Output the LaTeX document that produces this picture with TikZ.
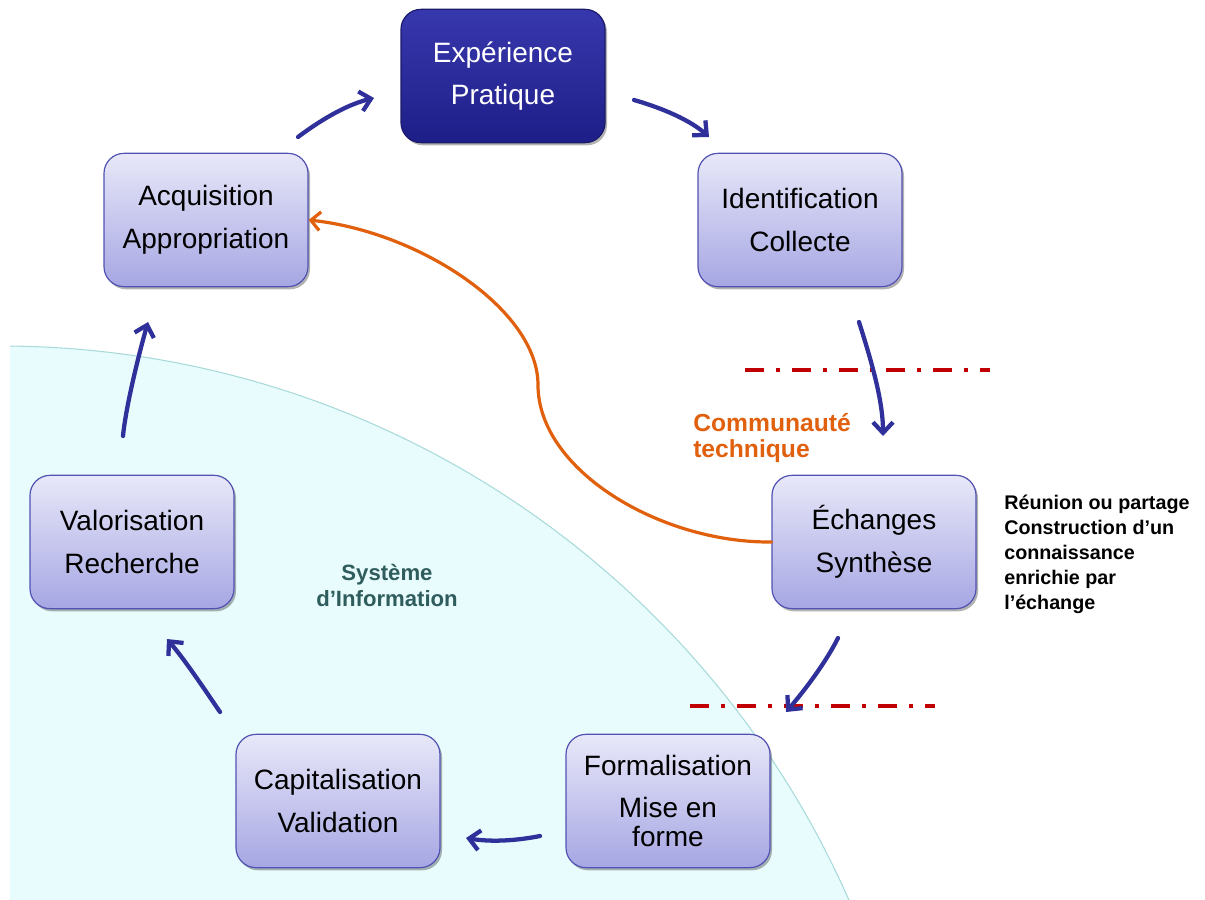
\documentclass[tikz,border=0pt]{standalone}
\usepackage{fontspec}
\setmainfont{Liberation Sans}
\usetikzlibrary{arrows.meta,shadows}
\definecolor{arrowblue}{HTML}{30309A}
\definecolor{boxtop}{HTML}{E8E8F9}
\definecolor{boxbot}{HTML}{A6A6E3}
\definecolor{boxborder}{HTML}{5252B2}
\definecolor{darktop}{HTML}{3838AE}
\definecolor{darkbot}{HTML}{1E1E88}
\definecolor{darkborder}{HTML}{1A1A6A}
\definecolor{cyanfill}{HTML}{E9FCFD}
\definecolor{cyanline}{HTML}{A8DADA}
\definecolor{orangec}{HTML}{E0600E}
\definecolor{redc}{HTML}{C00000}
\definecolor{tealc}{HTML}{2F5C5C}
\tikzset{
  lbox/.style={draw=boxborder, line width=0.9pt, rounded corners=15pt,
    top color=boxtop, bottom color=boxbot,
    minimum width=153pt, minimum height=100pt, align=center,
    font=\fontsize{21}{32}\selectfont,
    drop shadow={shadow xshift=1.5pt, shadow yshift=-2pt, opacity=0.3, fill=black}},
  dbox/.style={lbox, draw=darkborder, top color=darktop, bottom color=darkbot, text=white},
  cyc/.style={draw=arrowblue, line width=3.2pt, line cap=round,
    -{Straight Barb[length=8pt,width=15pt]}},
  orangearrow/.style={draw=orangec, line width=2.4pt, line cap=round,
    -{Straight Barb[length=7pt,width=14pt]}},
  dashdot/.style={draw=redc, line width=3.2pt,
    dash pattern=on 14pt off 9pt on 3pt off 9.25pt},
}
\begin{document}
\begin{tikzpicture}[x=0.75pt,y=-0.75pt]
\useasboundingbox (0,0) rectangle (1205,899);
% information system area
\begin{scope}
  \clip (10,0) rectangle (1205,899);
  \fill[cyanfill, draw=cyanline, line width=0.8pt] (0,1273) circle[radius=695.25pt];
\end{scope}

% nodes
\node[dbox] (exp) at (503,76) {Expérience\\Pratique};
\node[lbox] (acq) at (206,220) {Acquisition\\Appropriation};
\node[lbox] (ide) at (800,220) {Identification\\Collecte};
\node[lbox] (ech) at (874,542) {Échanges\\Synthèse};
\node[lbox, font=\fontsize{21}{22}\selectfont] (for) at (668,801) {Formalisation\\[9pt]Mise en\\forme};
\node[lbox] (cap) at (338,801) {Capitalisation\\Validation};
\node[lbox] (val) at (132,542) {Valorisation\\Recherche};

% texts
\node[anchor=north west, align=left, text=orangec, inner sep=0pt,
  font=\bfseries\fontsize{18.5}{19.5}\selectfont] (comm) at (693,413) {Communauté\\technique};
\node[anchor=north west, align=left, inner sep=0pt,
  font=\bfseries\fontsize{14.8}{18.75}\selectfont] (desc) at (1004,495) {Réunion ou partage\\Construction d’un\\connaissance\\enrichie par\\l’échange};
\node[align=center, text=tealc, inner sep=0pt,
  font=\bfseries\fontsize{16.6}{19.5}\selectfont] (si) at (387,585) {Système\\d’Information};

% red dash-dot lines
\coordinate (r1a) at (745,370); \coordinate (r1b) at (990,370);
\coordinate (r2a) at (690,706); \coordinate (r2b) at (935,706);
\draw[dashdot] (r1a) -- (r1b);
\draw[dashdot] (r2a) -- (r2b);

% cycle arrow endpoints
\coordinate (a1s) at (298,137); \coordinate (a1e) at (374,98);
\coordinate (a2s) at (634,100); \coordinate (a2e) at (709,137);
\coordinate (a3s) at (859,322); \coordinate (a3e) at (883,436);
\coordinate (a4s) at (838,638); \coordinate (a4e) at (786,712);
\coordinate (a5s) at (540,836); \coordinate (a5e) at (466,838);
\coordinate (a6s) at (220,712); \coordinate (a6e) at (167,639);
\coordinate (a7s) at (123,436); \coordinate (a7e) at (148,322);

\draw[cyc] (a1s) .. controls (318,122) and (345,105) .. (a1e);
\draw[cyc] (a2s) .. controls (662,108) and (690,120) .. (a2e);
\draw[cyc] (a3s) .. controls (871,360) and (883,400) .. (a3e);
\draw[cyc] (a4s) .. controls (826,662) and (805,690) .. (a4e);
\draw[cyc] (a5s) .. controls (515,841) and (490,842) .. (a5e);
\draw[cyc] (a6s) .. controls (205,690) and (185,660) .. (a6e);
\draw[cyc] (a7s) .. controls (126,405) and (140,350) .. (a7e);

% orange connector
\coordinate (om) at (538,385);
\draw[orangearrow] (ech.west) .. controls (660,543) and (538,470) .. (om)
  .. controls (538,310) and (420,232) .. (acq.east);
\end{tikzpicture}
\end{document}
